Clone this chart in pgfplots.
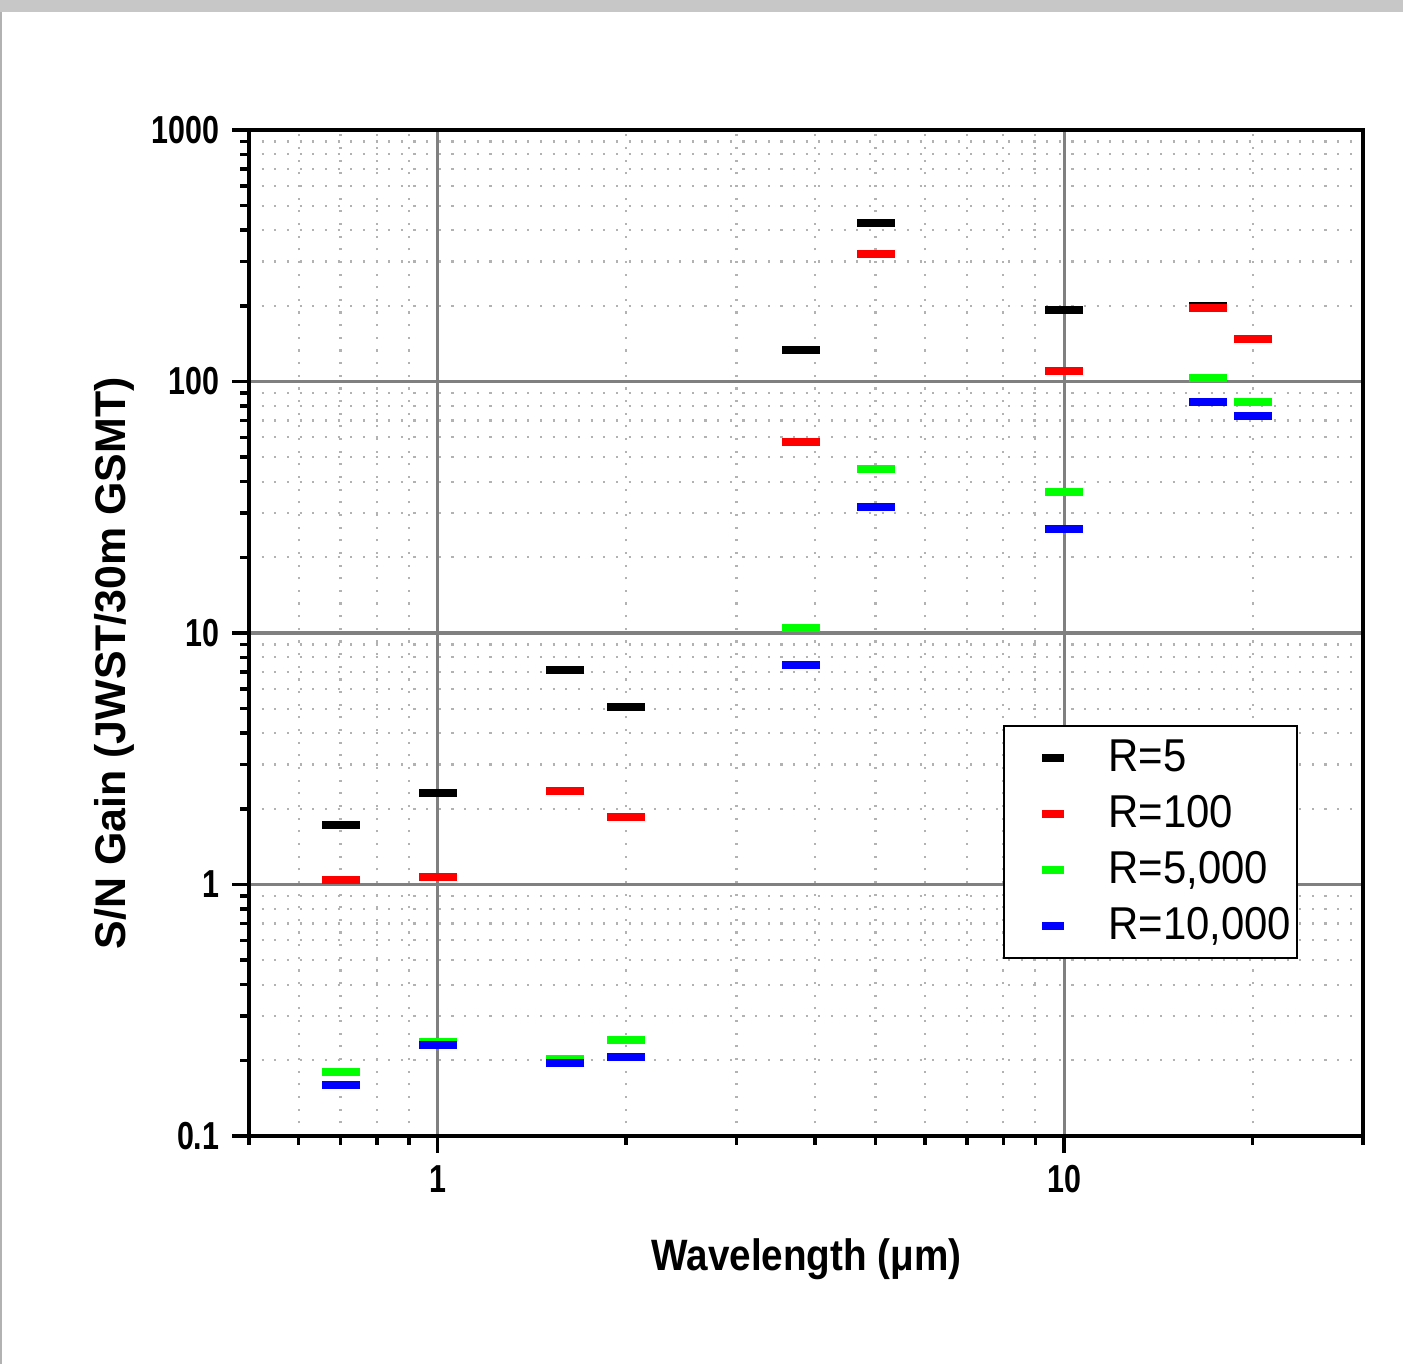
\documentclass[border=0pt]{standalone}
\usepackage{fontspec}
\setmainfont{Liberation Sans}
\newfontfamily\tickfont[FakeStretch=0.78]{Liberation Sans}
\newfontfamily\xlabfont[FakeStretch=0.88]{Liberation Sans}
\newfontfamily\ylabfont{Liberation Sans}
\newfontfamily\legfont[FakeStretch=0.91]{Liberation Sans}
\usepackage{pgfplots}
\pgfplotsset{compat=1.18}
\usepackage{pgfplotstable}

\pgfplotstableread{
x y
0.7 1.73
1.0 2.32
1.6 7.16
2.0 5.1
3.8 133
5.0 425
10 193
17 199.6
}\dataA
\pgfplotstableread{
x y
0.7 1.04
1.0 1.076
1.6 2.36
2.0 1.85
3.8 57.7
5.0 320
10 109.6
17 196
20 146.9
}\dataB
\pgfplotstableread{
x y
0.7 0.179
1.0 0.2365
1.6 0.2015
2.0 0.240
3.8 10.5
5.0 44.7
10 36.5
17 103.2
20 82.7
}\dataC
\pgfplotstableread{
x y
0.7 0.159
1.0 0.230
1.6 0.196
2.0 0.2063
3.8 7.43
5.0 31.8
10 26.0
17 82.7
20 73.2
}\dataD

\definecolor{pgreen}{RGB}{0,255,0}
\definecolor{pblue}{RGB}{0,0,255}
\definecolor{pred}{RGB}{255,0,0}

\pgfplotsset{
  barmark/.style={only marks, mark=-, color=#1, mark size=0.19cm,
    mark options={line width=0.08cm, solid},
    legend image code/.code={
      \path (0cm,-0.05cm) (0.96cm,0.05cm);
      \draw[line width=0.08cm, color=#1] (0.34cm,0cm) -- (0.56cm,0cm);
    }},
}

\begin{document}
\begin{tikzpicture}
\path[use as bounding box] (0,0) rectangle (14.03,13.64);
\fill[black!22] (0,13.52) rectangle (14.03,13.64);
\fill[black!30] (0,0) rectangle (0.02,13.52);
\begin{axis}[
  at={(2.49cm,2.28cm)}, anchor=south west,
  scale only axis, width=11.14cm, height=10.06cm,
  xmode=log, ymode=log,
  xmin=0.5, xmax=30, ymin=0.1, ymax=1000,
  xtick={1,10}, xticklabels={1,10},
  ytick={0.1,1,10,100,1000}, yticklabels={0.1,1,10,100,1000},
  minor xtick={0.5,0.6,0.7,0.8,0.9,2,3,4,5,6,7,8,9,20,30},
  minor ytick={0.2,0.3,0.4,0.5,0.6,0.7,0.8,0.9,2,3,4,5,6,7,8,9,20,30,40,50,60,70,80,90,200,300,400,500,600,700,800,900},
  xtick pos=bottom, ytick pos=left,
  tick align=outside,
  major tick length=0.17cm, minor tick length=0.09cm,
  tick style={line width=1pt, color=black},
  axis line style={line width=1.1pt},
  grid=both,
  major grid style={line width=0.9pt, color=black!50, solid},
  minor grid style={line width=0.6pt, color=black!30, dash pattern=on 0.6pt off 3pt},
  tick label style={font=\tickfont\bfseries\fontsize{11.1}{13}\selectfont},
  yticklabel style={anchor=east, inner sep=0pt, xshift=-0.12cm},
  xticklabel style={anchor=north, inner sep=0pt, yshift=-0.12cm},
  xlabel={Wavelength (μm)},
  ylabel={S/N Gain (JWST/30m GSMT)},
  every axis x label/.style={at={(axis description cs:0.5005,-0.1332)}, anchor=base,
    font=\xlabfont\bfseries\fontsize{12.5}{15}\selectfont},
  every axis y label/.style={at={(axis description cs:-0.1113,0.47)}, anchor=base, rotate=90,
    font=\ylabfont\bfseries\fontsize{12.2}{15}\selectfont},
  legend style={at={(axis description cs:0.677,0.4085)}, anchor=north west,
    draw=black, line width=0.6pt, fill=white,
    inner xsep=0.03cm, inner ysep=0.04cm, column sep=0pt, row sep=0pt,
    font=\legfont\fontsize{13.1}{15}\selectfont,
    nodes={inner xsep=0.03cm, inner ysep=0.08cm, text height=0.33cm, text depth=0.07cm}},
  legend cell align=left,
]
\addplot[barmark=black] table[x=x,y=y] {\dataA};
\addlegendentry{R=5}
\addplot[barmark=pred] table[x=x,y=y] {\dataB};
\addlegendentry{R=100}
\addplot[barmark=pgreen] table[x=x,y=y] {\dataC};
\addlegendentry{R=5,000}
\addplot[barmark=pblue] table[x=x,y=y] {\dataD};
\addlegendentry{R=10,000}
\end{axis}
\end{tikzpicture}
\end{document}
